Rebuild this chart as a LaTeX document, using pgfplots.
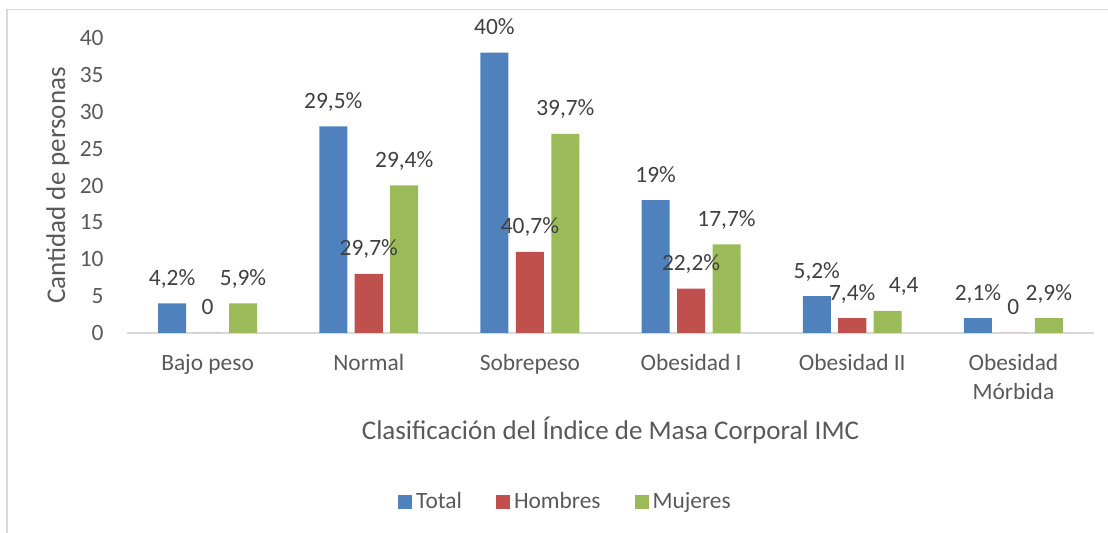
\documentclass[border=0pt]{standalone}
\usepackage{fontspec}
\setmainfont{Carlito}
\usepackage{pgfplots}
\pgfplotsset{compat=1.18}

\definecolor{cTotal}{HTML}{4F81BD}
\definecolor{cHombres}{HTML}{C0504D}
\definecolor{cMujeres}{HTML}{9BBB59}
\definecolor{txt}{HTML}{595959}
\definecolor{lbl}{HTML}{404040}
\definecolor{frame}{HTML}{D9D9D9}

\begin{document}
\begin{tikzpicture}
  \path[use as bounding box] (0,0) rectangle (554pt,266.5pt);
  % chart frame (only left and top edges are visible)
  \draw[frame, line width=0.85pt] (3.5pt,0) -- (3.5pt,261.8pt) -- (554pt,261.8pt);
  \begin{axis}[
      at={(63.5pt,100pt)}, anchor=south west,
      scale only axis, width=483.5pt, height=147.5pt,
      ybar, bar width=0.174,
      xmin=-0.5, xmax=5.5, ymin=0, ymax=40,
      xtick={0,...,5},
      xticklabels={Bajo peso, Normal, Sobrepeso, Obesidad I, Obesidad II, {Obesidad\\Mórbida}},
      ytick={0,5,...,40},
      axis x line*=bottom, axis y line*=left,
      x axis line style={draw=frame, line width=0.75pt, -},
      y axis line style={draw=none},
      major tick length=0pt,
      /pgf/number format/assume math mode=true,
      xticklabel style={font=\fontsize{11.7}{14.5}\selectfont, text=txt, align=center,
        anchor=north, inner sep=0pt, yshift=-10.5pt},
      yticklabel style={font=\fontsize{11.7}{14}\selectfont, text=txt,
        anchor=east, inner sep=0pt, xshift=-11.5pt},
      xlabel={Clasificación del Índice de Masa Corporal IMC},
      ylabel={Cantidad de personas},
      xlabel style={font=\fontsize{13.5}{16}\selectfont, text=txt,
        at={(axis description cs:0.5,-0.3627)}, anchor=base},
      ylabel style={font=\fontsize{13.5}{16}\selectfont, text=txt,
        at={(axis description cs:-0.0641,0.5)}, anchor=base, rotate=0},
      nodes near coords, point meta=explicit symbolic,
      every node near coord/.append style={font=\fontsize{11.7}{14}\selectfont,
        text=lbl, anchor=base, inner sep=0pt, yshift=9pt},
      legend columns=-1,
      legend style={draw=none, fill=none, font=\fontsize{11.7}{14}\selectfont,
        text=txt, at={(axis description cs:0.4545,-0.573)}, anchor=center,
        /tikz/every even column/.append style={column sep=15pt}},
      legend image code/.code={\fill[#1] (0pt,-3.5pt) rectangle (7pt,3.5pt);},
    ]
    \addplot[fill=cTotal, draw=none, bar shift=-0.22] coordinates {
      (0,4) [4,2\%] (1,28) [29,5\%] (2,38) [40\%] (3,18) [19\%] (4,5) [5,2\%] (5,2) [2,1\%]
    };
    \addplot[fill=cHombres, draw=none, bar shift=0] coordinates {
      (0,0) [0] (1,8) [29,7\%] (2,11) [40,7\%] (3,6) [22,2\%] (4,2) [7,4\%] (5,0) [0]
    };
    \addplot[fill=cMujeres, draw=none, bar shift=0.22] coordinates {
      (0,4) [5,9\%] (1,20) [29,4\%] (2,27) [39,7\%] (3,12) [17,7\%] (4,3) [\hspace*{16pt}4,4] (5,2) [2,9\%]
    };
    \legend{Total, Hombres, Mujeres}
  \end{axis}
\end{tikzpicture}
\end{document}
